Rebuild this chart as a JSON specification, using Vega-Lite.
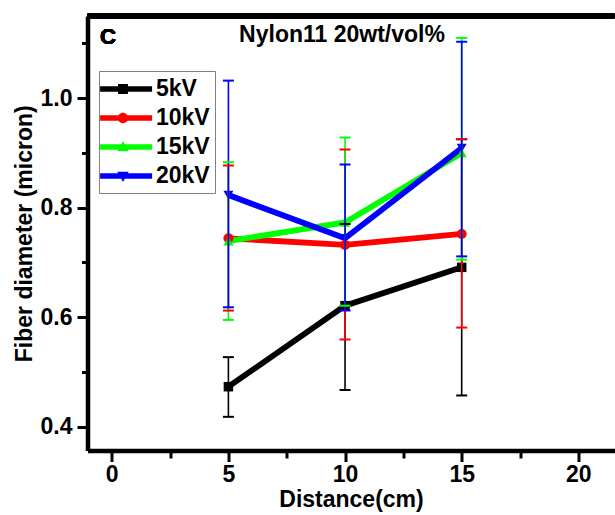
{
  "$schema": "https://vega.github.io/schema/vega-lite/v6.json",
  "autosize": {"type": "none"},
  "padding": {"left": 87.5, "top": 16, "right": 0, "bottom": 64.5},
  "width": 527,
  "height": 434.5,
  "background": "white",
  "config": {"view": {"stroke": null}, "font": "Liberation Sans"},
  "title": {"text": "Nylon11 20wt/vol%", "font": "Liberation Sans", "fontSize": 23, "fontWeight": "bold", "color": "black", "anchor": "middle", "frame": "group", "baseline": "alphabetic", "offset": -51, "dx": -9},
  "data": {"values": [
    {"kv": "5kV", "d": 5, "m": 0.473, "lo": 0.418, "hi": 0.527},
    {"kv": "5kV", "d": 10, "m": 0.621, "lo": 0.467, "hi": 0.770},
    {"kv": "5kV", "d": 15, "m": 0.691, "lo": 0.457, "hi": 0.925},
    {"kv": "10kV", "d": 5, "m": 0.744, "lo": 0.612, "hi": 0.877},
    {"kv": "10kV", "d": 10, "m": 0.732, "lo": 0.559, "hi": 0.906},
    {"kv": "10kV", "d": 15, "m": 0.752, "lo": 0.581, "hi": 0.925},
    {"kv": "15kV", "d": 5, "m": 0.739, "lo": 0.595, "hi": 0.883},
    {"kv": "15kV", "d": 10, "m": 0.773, "lo": 0.621, "hi": 0.928},
    {"kv": "15kV", "d": 15, "m": 0.900, "lo": 0.705, "hi": 1.110},
    {"kv": "20kV", "d": 5, "m": 0.823, "lo": 0.618, "hi": 1.032},
    {"kv": "20kV", "d": 10, "m": 0.744, "lo": 0.612, "hi": 0.879},
    {"kv": "20kV", "d": 15, "m": 0.909, "lo": 0.711, "hi": 1.103}
  ]},
  "layer": [
    {
      "mark": {"type": "line", "strokeWidth": 5.8},
      "encoding": {
        "x": {"field": "d", "type": "quantitative",
          "scale": {"domain": [-1.04, 21.55], "nice": false, "zero": false},
          "axis": {"orient": "bottom", "values": [0, 5, 10, 15, 20], "title": "Distance(cm)", "titleFont": "Liberation Sans", "titleFontSize": 23, "titleFontWeight": "bold", "titleColor": "black", "titlePadding": 2,
            "labelFont": "Liberation Sans", "labelFontSize": 23, "labelFontWeight": "bold", "labelColor": "black", "labelPadding": 2, "labelFlush": false, "labelOverlap": false,
            "tickSize": 11, "tickWidth": 3, "tickColor": "black", "domainColor": "black", "domainWidth": 4.5, "grid": false}},
        "y": {"field": "m", "type": "quantitative",
          "scale": {"domain": [0.3565, 1.15], "nice": false, "zero": false},
          "axis": {"orient": "left", "values": [0.4, 0.6, 0.8, 1.0], "format": ".1f", "title": "Fiber diameter (micron)", "titleFont": "Liberation Sans", "titleFontSize": 23, "titleFontWeight": "bold", "titleColor": "black", "titlePadding": 4,
            "labelFont": "Liberation Sans", "labelFontSize": 23, "labelFontWeight": "bold", "labelColor": "black", "labelPadding": 5, "labelOverlap": false,
            "tickSize": 10.5, "tickWidth": 3, "tickColor": "black", "domainColor": "black", "domainWidth": 4.5, "grid": false}},
        "color": {"field": "kv", "type": "nominal",
          "scale": {"domain": ["5kV", "10kV", "15kV", "20kV"], "range": ["#000000", "#ff0000", "#00ff00", "#0000ff"]},
          "legend": {"title": null, "orient": "none", "legendX": 11.5, "legendY": 55, "padding": 5,
            "strokeColor": "#808080", "fillColor": "white", "symbolSize": 676, "rowPadding": 4, "labelOffset": 26,
            "labelFont": "Liberation Sans", "labelFontSize": 23, "labelFontWeight": "bold", "labelColor": "black",
            "encode": {"symbols": {"update": {
              "shape": {"signal": "datum.value == '5kV' ? 'M-1.3,-0.22H2.7V0.22H-1.3Z M0.08,-0.38H0.84V0.38H0.08Z' : datum.value == '10kV' ? 'M-1.3,-0.22H2.7V0.22H-1.3Z M0.06,0A0.4,0.4,0,1,1,0.86,0A0.4,0.4,0,1,1,0.06,0Z' : datum.value == '15kV' ? 'M-1.3,-0.22H2.7V0.22H-1.3Z M0.46,-0.46L0.9,0.32H0.02Z' : 'M-1.3,-0.22H2.7V0.22H-1.3Z M0.46,0.46L0.02,-0.32H0.9Z'"},
              "fill": {"signal": "datum.value == '5kV' ? '#000000' : datum.value == '10kV' ? '#ff0000' : datum.value == '15kV' ? '#00ff00' : '#0000ff'"},
              "fillOpacity": {"value": 1},
              "strokeWidth": {"value": 0}
            }}}}}
      }
    },
    {
      "transform": [{"filter": "datum.kv == '5kV'"}],
      "mark": {"type": "point", "shape": "square", "filled": true, "opacity": 1, "size": 90, "color": "#000000"},
      "encoding": {
        "x": {"field": "d", "type": "quantitative", "axis": null},
        "y": {"field": "m", "type": "quantitative", "axis": null}
      }
    },
    {
      "transform": [{"filter": "datum.kv == '10kV'"}],
      "mark": {"type": "point", "shape": "circle", "filled": true, "opacity": 1, "size": 100, "color": "#ff0000"},
      "encoding": {
        "x": {"field": "d", "type": "quantitative", "axis": null},
        "y": {"field": "m", "type": "quantitative", "axis": null}
      }
    },
    {
      "transform": [{"filter": "datum.kv == '15kV'"}],
      "mark": {"type": "point", "shape": "triangle-up", "filled": true, "opacity": 1, "size": 100, "color": "#00ff00"},
      "encoding": {
        "x": {"field": "d", "type": "quantitative", "axis": null},
        "y": {"field": "m", "type": "quantitative", "axis": null}
      }
    },
    {
      "transform": [{"filter": "datum.kv == '20kV'"}],
      "mark": {"type": "point", "shape": "triangle-down", "filled": true, "opacity": 1, "size": 100, "color": "#0000ff"},
      "encoding": {
        "x": {"field": "d", "type": "quantitative", "axis": null},
        "y": {"field": "m", "type": "quantitative", "axis": null}
      }
    },
    {
      "mark": {"type": "rule", "strokeWidth": 1.6},
      "encoding": {
        "x": {"field": "d", "type": "quantitative",
          "axis": {"orient": "bottom", "values": [2.5, 7.5, 12.5, 17.5], "labels": false, "domain": false, "title": null, "tickSize": 7.5, "tickWidth": 3, "tickColor": "black", "grid": false}},
        "y": {"field": "lo", "type": "quantitative",
          "axis": {"orient": "left", "values": [0.5, 0.7, 0.9, 1.1], "labels": false, "domain": false, "title": null, "tickSize": 6, "tickWidth": 3, "tickColor": "black", "grid": false}},
        "y2": {"field": "hi"},
        "color": {"field": "kv", "type": "nominal", "legend": null}
      }
    },
    {
      "mark": {"type": "tick", "orient": "horizontal", "size": 11, "thickness": 2, "opacity": 1},
      "encoding": {
        "x": {"field": "d", "type": "quantitative", "axis": null},
        "y": {"field": "lo", "type": "quantitative", "axis": null},
        "color": {"field": "kv", "type": "nominal", "legend": null}
      }
    },
    {
      "mark": {"type": "tick", "orient": "horizontal", "size": 11, "thickness": 2, "opacity": 1},
      "encoding": {
        "x": {"field": "d", "type": "quantitative", "axis": null},
        "y": {"field": "hi", "type": "quantitative", "axis": null},
        "color": {"field": "kv", "type": "nominal", "legend": null}
      }
    },
    {
      "mark": {"type": "rule", "strokeWidth": 4.5, "color": "black"},
      "encoding": {
        "y": {"datum": 1.15, "type": "quantitative", "axis": null}
      }
    },
    {
      "mark": {"type": "text", "text": "C", "font": "Liberation Sans", "fontSize": 22, "fontWeight": "bold", "color": "black", "align": "center", "baseline": "alphabetic"},
      "encoding": {
        "x": {"datum": -0.16, "type": "quantitative", "axis": null},
        "y": {"datum": 1.099, "type": "quantitative", "axis": null}
      }
    }
  ],
  "resolve": {"axis": {"x": "independent", "y": "independent"}}
}
